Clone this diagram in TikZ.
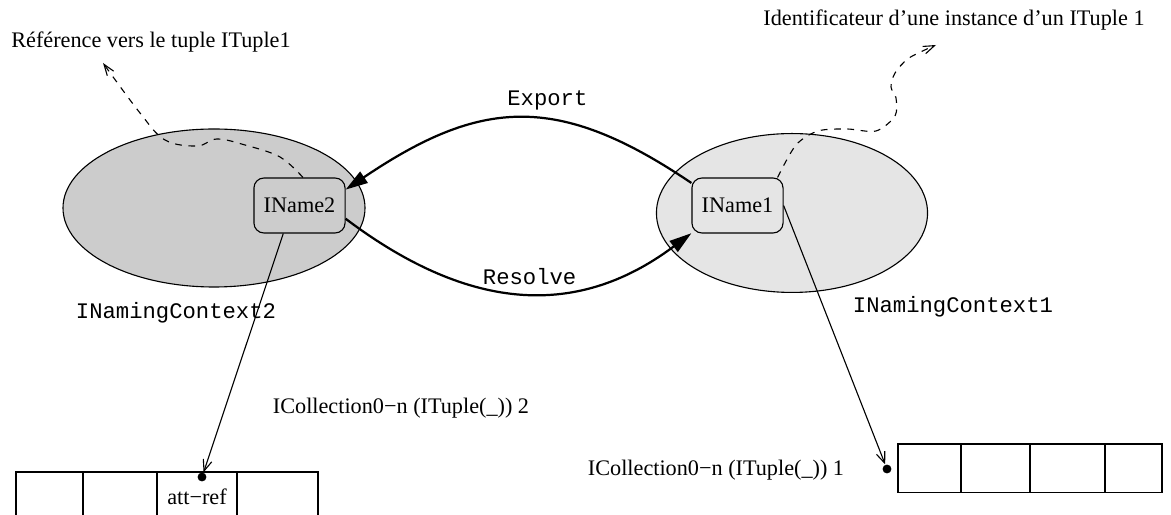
\documentclass[tikz,border=0pt]{standalone}
\usepackage{fontspec}
\setmainfont{Liberation Serif}
\setmonofont{Liberation Mono}
\usepackage{tikz}
\usetikzlibrary{arrows.meta,positioning,shapes.geometric}

\begin{document}
\begin{tikzpicture}[x=0.45pt, y=-0.45pt, >=Latex, font=\fontsize{10}{12}\selectfont]
\tikzstyle{ctx}=[draw, ellipse, inner sep=0pt, outer sep=0pt, line width=0.5pt]
\tikzstyle{iname}=[draw, rounded corners=4.5pt, minimum width=41pt,
                   minimum height=24.75pt, inner sep=0pt, line width=0.5pt]
\tikzstyle{cell}=[draw, minimum height=22pt, inner sep=0pt, outer sep=0pt, line width=0.5pt]
\tikzstyle{dot}=[circle, fill, minimum size=4pt, inner sep=0pt]
\tikzstyle{flow}=[line width=1pt, -{Triangle[length=10pt,width=6pt]}]
\tikzstyle{ptr}=[line width=0.5pt, -{Straight Barb[length=5pt,width=4pt]}]
\tikzstyle{note}=[dashed, line width=0.5pt, -{Straight Barb[length=5pt,width=3.5pt]}]

\useasboundingbox (0,0) rectangle (1171,515);
\clip (0,0) rectangle (1171,515);

% naming contexts
\node[ctx, fill=black!20, minimum width=135.9pt, minimum height=71.1pt] (ctx2) at (214,208) {};
\node[ctx, fill=black!10, minimum width=122pt, minimum height=71.5pt] (ctx1) at (792,213) {};
\node[iname] (n2) at (299.5,205.5) {IName2};
\node[iname] (n1) at (737.5,205.5) {IName1};
\node (lctx2) at (176,313) {\ttfamily INamingContext2};
\node (lctx1) at (953,307) {\ttfamily INamingContext1};

% export / resolve
\draw[flow] (n1.154) .. controls (557,92) and (480,99) .. (n2.19)
  node[midway, above, xshift=13pt] {\ttfamily Export};
\draw[flow] (n2.-16) .. controls (464,308) and (573,322) .. (n1.211)
  node[midway, above, xshift=5pt] {\ttfamily Resolve};

% collections
\node[cell, minimum width=30.15pt, anchor=north west] (l1) at (16,472) {};
\node[cell, minimum width=33.3pt, right=0pt of l1] (l2) {};
\node[cell, minimum width=36pt, right=0pt of l2] (l3) {att−ref};
\node[cell, minimum width=36.45pt, right=0pt of l3] (l4) {};
\node[dot] (d2) at (202,477) {};
\node (lcol2) at (401,408) {ICollection0−n (ITuple(\_)) 2};

\node[cell, minimum width=28.35pt, anchor=north west] (r1) at (898,444) {};
\node[cell, minimum width=31.05pt, right=0pt of r1] (r2) {};
\node[cell, minimum width=33.75pt, right=0pt of r2] (r3) {};
\node[cell, minimum width=25.65pt, right=0pt of r3] (r4) {};
\node[dot] (d1) at (887,469) {};
\node (lcol1) at (716,470) {ICollection0−n (ITuple(\_)) 1};

\draw[ptr] (n2.240) -- (d2);
\draw[ptr] (n1.east) -- (d1);

% notes
\node (lref) at (151,42) {Référence vers le tuple ITuple1};
\node (lident) at (954,20) {Identificateur d’une instance d’un ITuple 1};
\coordinate (tref) at (103,63);
\coordinate (tident) at (936,45);
\draw[note] plot[smooth, tension=0.6] coordinates {(n2.83) (280,157) (245,145)
  (217,139) (197,146) (165,140) (140,113) (tref)};
\draw[note] plot[smooth] coordinates {(n1.35.5) (796,145) (818,131) (847,129)
  (876,131) (895,116) (896,98) (891,87) (895,73) (909,58) (tident)};

\end{tikzpicture}
\end{document}
